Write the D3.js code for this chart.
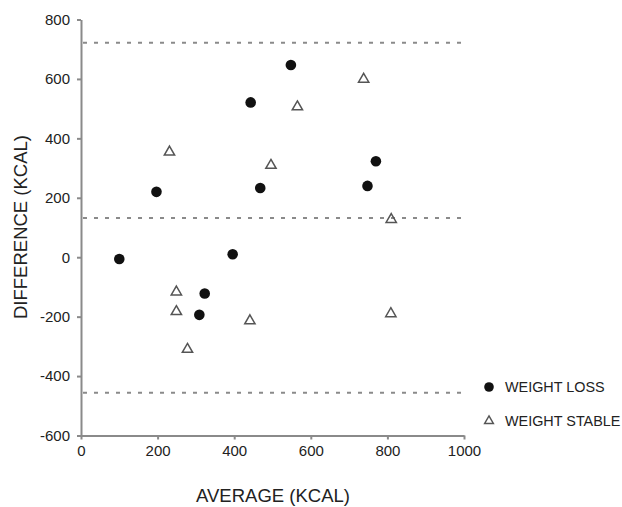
<!DOCTYPE html>
<html lang="en">
<head>
  <meta charset="utf-8" />
  <title>Bland-Altman plot</title>
  <script src="https://d3js.org/d3.v7.min.js"></script>
  <style>
    body {
      margin: 0;
      background: #fff;
      font-family: "Liberation Sans", Arial, sans-serif;
    }
    .axis path,
    .axis line {
      stroke: #8a8a8a;
      stroke-width: 2px;
    }
    .axis text {
      font-size: 15px;
      fill: #222;
    }
    .limit {
      stroke: #8a8a8a;
      stroke-width: 2px;
      stroke-dasharray: 4 7;
    }
    .title {
      font-size: 18.5px;
      fill: #222;
    }
    .legend text {
      font-size: 14.4px;
      fill: #222;
    }
  </style>
</head>
<body>
  <svg width="622" height="507"></svg>
  <script>
    // weight loss group (filled dots)
    const lossAvg = [100, 197, 309, 323, 396, 443, 468, 548, 748, 770];
    const lossDiff = [-6, 220, -194, -122, 10, 521, 233, 647, 240, 323];

    // weight stable group (open triangles)
    const stableAvg = [231, 249, 249, 278, 441, 496, 565, 738, 809, 810];
    const stableDiff = [354, -117, -183, -310, -214, 309, 506, 599, -190, 127];

    // mean difference and limits of agreement
    const limits = [722, 132, -456];

    const xTicks = [0, 200, 400, 600, 800, 1000];
    const yTicks = [-600, -400, -200, 0, 200, 400, 600, 800];

    const svg = d3.select("svg");

    const x = d3.scaleLinear().domain([0, 1000]).range([81, 464]);
    const y = d3.scaleLinear().domain([-600, 800]).range([435.5, 19.5]);

    // limit lines
    svg.append("g")
      .selectAll("line")
      .data(limits)
      .join("line")
      .attr("class", "limit")
      .attr("x1", x(0) + 2)
      .attr("x2", x(1000) - 2)
      .attr("y1", d => y(d))
      .attr("y2", d => y(d));

    // axes
    svg.append("g")
      .attr("class", "axis")
      .attr("transform", `translate(0,${y(-600)})`)
      .call(d3.axisBottom(x).tickValues(xTicks).tickFormat(d => String(d))
        .tickSize(4).tickSizeOuter(0).tickPadding(4))
      .call(g => g.selectAll("text").attr("dy", "0.8em"));

    svg.append("g")
      .attr("class", "axis")
      .attr("transform", `translate(${x(0)},0)`)
      .call(d3.axisLeft(y).tickValues(yTicks).tickFormat(d => String(d))
        .tickSize(4).tickSizeOuter(0).tickPadding(7));

    // points
    const lossPts = lossAvg.map((a, i) => ({ a, d: lossDiff[i] }));
    const stablePts = stableAvg.map((a, i) => ({ a, d: stableDiff[i] }));

    svg.append("g")
      .selectAll("circle")
      .data(lossPts)
      .join("circle")
      .attr("cx", d => x(d.a))
      .attr("cy", d => y(d.d))
      .attr("r", 5.3)
      .attr("fill", "#111");

    const tri = d3.symbol().type(d3.symbolTriangle).size(46);

    svg.append("g")
      .selectAll("path")
      .data(stablePts)
      .join("path")
      .attr("d", tri)
      .attr("transform", d => `translate(${x(d.a)},${y(d.d)})`)
      .attr("fill", "none")
      .attr("stroke", "#555")
      .attr("stroke-width", 1.5);

    // axis titles
    svg.append("text")
      .attr("class", "title")
      .attr("x", 273)
      .attr("y", 502)
      .attr("text-anchor", "middle")
      .text("AVERAGE (KCAL)");

    svg.append("text")
      .attr("class", "title")
      .attr("transform", "translate(27,227) rotate(-90)")
      .attr("text-anchor", "middle")
      .text("DIFFERENCE (KCAL)");

    // legend
    const legend = svg.append("g").attr("class", "legend");
    legend.append("circle")
      .attr("cx", 489).attr("cy", 387).attr("r", 4.8).attr("fill", "#111");
    legend.append("text")
      .attr("x", 505).attr("y", 392).text("WEIGHT LOSS");
    legend.append("path")
      .attr("d", d3.symbol().type(d3.symbolTriangle).size(34))
      .attr("transform", "translate(489,421)")
      .attr("fill", "none").attr("stroke", "#555").attr("stroke-width", 1.4);
    legend.append("text")
      .attr("x", 505).attr("y", 426).text("WEIGHT STABLE");
  </script>
</body>
</html>
